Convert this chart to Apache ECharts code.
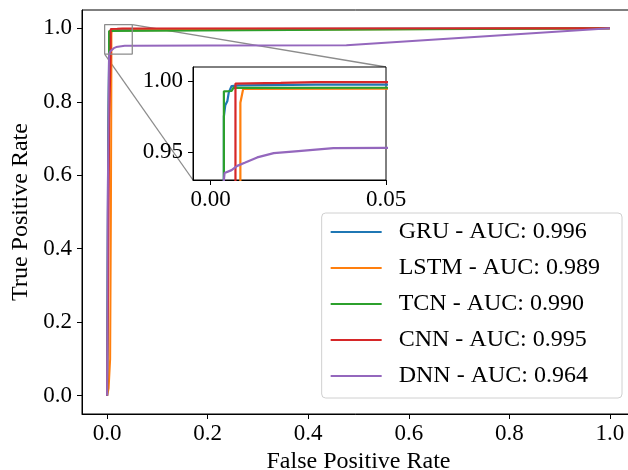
<!DOCTYPE html>
<html>
<head>
<meta charset="utf-8">
<script src="https://cdn.jsdelivr.net/npm/echarts@6/dist/echarts.min.js"></script>
<style>
  html, body { margin: 0; padding: 0; background: #fff; }
  #chart { width: 628px; height: 470px; }
</style>
</head>
<body>
<div id="chart"></div>
<script>
// ROC curves
const modelNames = ['GRU', 'LSTM', 'TCN', 'CNN', 'DNN'];
const aucValues = ['0.996', '0.989', '0.990', '0.995', '0.964'];
const colors = ['#1f77b4', '#ff7f0e', '#2ca02c', '#d62728', '#9467bd'];

const gruRoc = [[0, 0], [0.001, 0.35], [0.002, 0.7], [0.0038, 0.93], [0.0038, 0.975], [0.0042, 0.983],
  [0.0048, 0.986], [0.0052, 0.992], [0.006, 0.9965], [0.008, 0.997], [0.03, 0.9975], [1, 1]];
const lstmRoc = [[0, 0], [0.003, 0.02], [0.006, 0.1], [0.0075, 0.5], [0.0085, 0.9], [0.0085, 0.9847],
  [0.009, 0.986], [0.0093, 0.9945], [0.05, 0.9946], [1, 1]];
const tcnRoc = [[0, 0], [0.001, 0.3], [0.002, 0.6], [0.0038, 0.9], [0.0038, 0.9928], [0.006, 0.993],
  [0.0065, 0.9952], [1, 1]];
const cnnRoc = [[0, 0], [0.002, 0.3], [0.004, 0.75], [0.0071, 0.93], [0.0071, 0.9983], [0.02, 0.9988],
  [0.03, 0.9993], [1, 1]];
const dnnRoc = [[0, 0], [0.001, 0.5], [0.0038, 0.93], [0.004, 0.935], [0.006, 0.937], [0.0076, 0.94],
  [0.0099, 0.9424], [0.0133, 0.946], [0.018, 0.949], [0.025, 0.9505], [0.035, 0.9525], [0.05, 0.9527],
  [0.2, 0.9535], [0.476, 0.954], [1, 1]];
const rocData = [gruRoc, lstmRoc, tcnRoc, cnnRoc, dnnRoc];

const mainTicks = [0, 0.2, 0.4, 0.6, 0.8, 1.0];
const insetXTicks = [0, 0.05];
const insetYTicks = [0.95, 1.0];
const insetX = [-0.005, 0.05];
const insetY = [0.93, 1.01];

const font = 'Liberation Serif';
const chart = echarts.init(document.getElementById('chart'), null, { renderer: 'canvas' });

function makeAxis(grid, min, max, ticks, digits, margin, extra) {
  return Object.assign({
    type: 'value',
    gridIndex: grid,
    min: min,
    max: max,
    axisLine: { show: true, onZero: false, lineStyle: { color: '#000', width: 1 } },
    axisTick: { show: true, length: 5, customValues: ticks, lineStyle: { color: '#000', width: 1 } },
    axisLabel: {
      customValues: ticks,
      formatter: v => v.toFixed(digits),
      fontFamily: font, fontSize: 23, color: '#000', margin: margin
    },
    splitLine: { show: false }
  }, extra || {});
}

const series = [];
modelNames.forEach((name, i) => {
  const label = name + ' - AUC: ' + aucValues[i];
  series.push({
    name: label, type: 'line', xAxisIndex: 0, yAxisIndex: 0,
    data: rocData[i], showSymbol: false, symbol: 'none',
    lineStyle: { color: colors[i], width: 2 }, itemStyle: { color: colors[i] }, z: 2 + i * 0.01
  });
  series.push({
    name: label, type: 'line', xAxisIndex: 1, yAxisIndex: 1,
    data: rocData[i], showSymbol: false, symbol: 'none', clip: true,
    lineStyle: { color: colors[i], width: 2.2 }, itemStyle: { color: colors[i] }, z: 5 + i * 0.01
  });
});

// zoom rectangle in main axes
series.push({
  type: 'line', xAxisIndex: 0, yAxisIndex: 0, silent: true, showSymbol: false, symbol: 'none',
  data: [[insetX[0], insetY[0]], [insetX[1], insetY[0]], [insetX[1], insetY[1]], [insetX[0], insetY[1]], [insetX[0], insetY[0]]],
  lineStyle: { color: '#8c8c8c', width: 1.3 }, z: 3
});

chart.setOption({
  animation: false,
  backgroundColor: '#fff',
  grid: [
    { left: 82, top: 10, width: 553, height: 404, outerBoundsMode: 'none', containLabel: false,
      show: true, borderColor: '#000', borderWidth: 1, backgroundColor: 'transparent' },
    { left: 193, top: 67, width: 193, height: 113, outerBoundsMode: 'none', containLabel: false,
      show: true, borderColor: '#000', borderWidth: 1, backgroundColor: '#fff', z: 4 }
  ],
  xAxis: [
    makeAxis(0, -0.05, 1.05, mainTicks, 1, 8, {
      name: 'False Positive Rate', nameLocation: 'middle', nameGap: 32,
      nameTextStyle: { fontFamily: font, fontSize: 24, color: '#000' }
    }),
    makeAxis(1, insetX[0], insetX[1], insetXTicks, 2, 8, { z: 5 })
  ],
  yAxis: [
    makeAxis(0, -0.05, 1.05, mainTicks, 1, 10, {
      name: 'True Positive Rate', nameLocation: 'middle', nameGap: 48,
      nameTextStyle: { fontFamily: font, fontSize: 24, color: '#000' }
    }),
    makeAxis(1, insetY[0], insetY[1], insetYTicks, 2, 10, { z: 5 })
  ],
  legend: {
    orient: 'vertical',
    right: 6, top: 213,
    align: 'left',
    data: modelNames.map((n, i) => n + ' - AUC: ' + aucValues[i]),
    formatter: name => '\u2002' + name,
    icon: 'rect', itemWidth: 51, itemHeight: 2, itemGap: 10,
    padding: [6, 22, 9, 9],
    backgroundColor: 'rgba(255,255,255,0.8)',
    borderColor: '#d0d0d0', borderWidth: 1, borderRadius: 4,
    textStyle: { fontFamily: font, fontSize: 24, color: '#000', lineHeight: 26 },
    selectedMode: false, z: 10
  },
  series: series
});

// connector lines between the zoom box and the inset
const boxTR = chart.convertToPixel({ gridIndex: 0 }, [insetX[1], insetY[1]]);
const boxBL = chart.convertToPixel({ gridIndex: 0 }, [insetX[0], insetY[0]]);
const insTR = chart.convertToPixel({ gridIndex: 1 }, [insetX[1], insetY[1]]);
const insBL = chart.convertToPixel({ gridIndex: 1 }, [insetX[0], insetY[0]]);
chart.setOption({
  graphic: [
    { type: 'line', shape: { x1: boxTR[0], y1: boxTR[1], x2: insTR[0], y2: insTR[1] }, style: { stroke: '#8c8c8c', lineWidth: 1.3 }, z: 1 },
    { type: 'line', shape: { x1: boxBL[0], y1: boxBL[1], x2: insBL[0], y2: insBL[1] }, style: { stroke: '#8c8c8c', lineWidth: 1.3 }, z: 1 }
  ]
});
</script>
</body>
</html>
